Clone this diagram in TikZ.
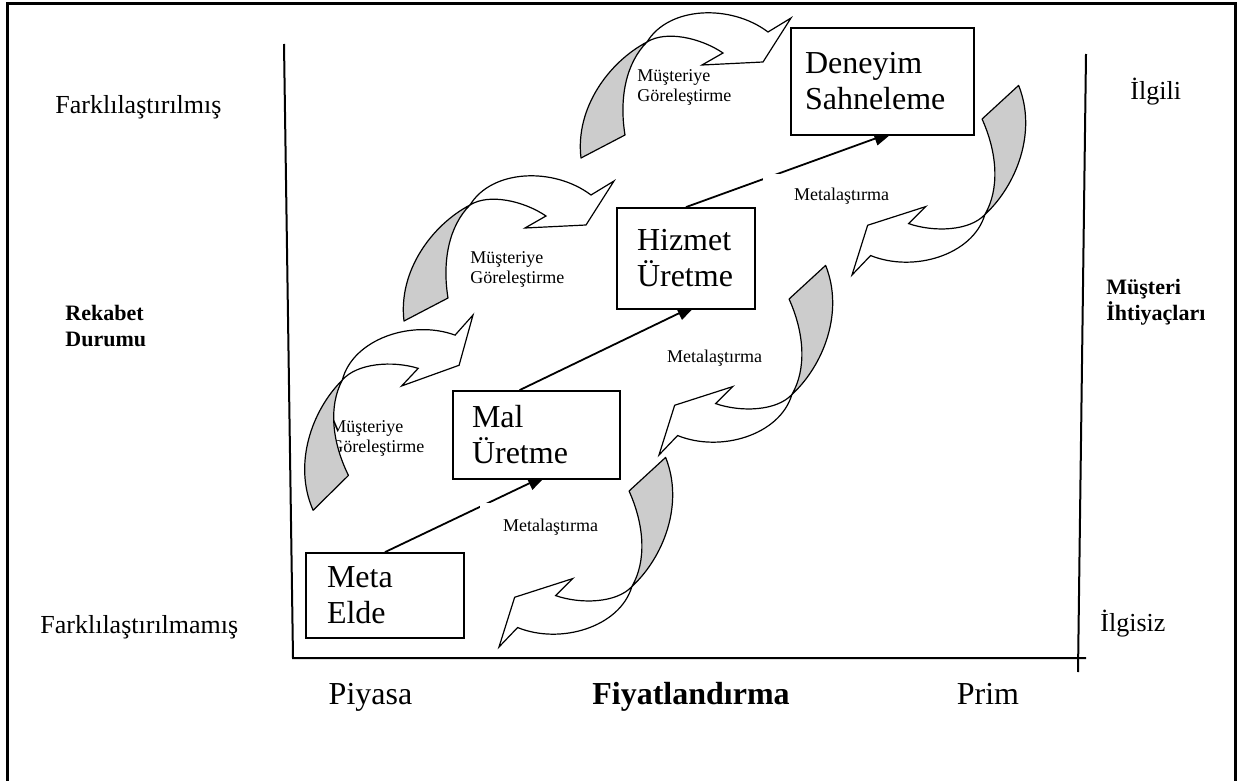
\documentclass[tikz,border=0pt]{standalone}
\usepackage{fontspec}
\setmainfont{Liberation Serif}
\usetikzlibrary{arrows.meta,calc}
\pgfdeclarelayer{bg}
\pgfdeclarelayer{mid}
\pgfsetlayers{bg,mid,main}
\tikzset{
  frameline/.style={line width=1.5pt},
  axisline/.style={line width=1pt},
  stagebox/.style={draw, line width=0.9pt, fill=white, align=left,
    font=\fontsize{16}{18}\selectfont, inner ysep=0pt},
  conn/.style={line width=0.9pt, -{Triangle[length=10pt,width=7pt]}, shorten >=-6pt},
  lbl/.style={font=\fontsize{9}{10}\selectfont, inner sep=0pt, align=left},
  coverlbl/.style={lbl, fill=white},
  sidelbl/.style={font=\fontsize{13}{15.6}\selectfont, anchor=west, inner sep=0pt},
  sidebold/.style={font=\fontsize{11}{13}\selectfont\bfseries, anchor=west, align=left, inner sep=0pt},
  pricelbl/.style={font=\fontsize{16}{19}\selectfont, inner sep=0pt, anchor=base},
  backpart/.style={fill=black!20, draw, line width=0.6pt, line join=round},
  frontpart/.style={fill=white, draw, line width=0.6pt, line join=miter},
}
\newcommand\curvarrow{%
  \filldraw[backpart] (-210,140) .. controls (-216,90) and (-182,44) .. (-144,24)
     .. controls (-165,45) and (-172,80) .. (-166,117) -- cycle;
  \filldraw[frontpart] (-144,24) .. controls (-122,-12) and (-60,-14) .. (-23,14)
     -- (0,0) -- (-28,44) -- (-89,47) -- (-68,35)
     .. controls (-90,20) and (-125,12) .. (-144,24) -- cycle;
}
\begin{document}
\begin{tikzpicture}[x=0.5pt,y=-0.5pt]
\useasboundingbox (0,0) rectangle (1242,781);

% stage boxes
\node[stagebox, text width=58pt, inner xsep=10.5pt, minimum height=42.5pt] (meta) at (385,595.5) {Meta\\Elde};
\node[stagebox, text width=64.5pt, inner xsep=9.5pt, minimum height=44pt] (mal) at (536.5,435) {Mal\\Üretme};
\node[stagebox, text width=49pt, inner xsep=10pt, minimum height=50.5pt] (hizmet) at (686,258.5) {Hizmet\\Üretme};
\node[stagebox, text width=77.5pt, inner xsep=7pt, minimum height=53.5pt] (deneyim) at (882.5,81.5) {Deneyim\\Sahneleme};

\begin{pgfonlayer}{bg}
  \draw[frameline] (7,781) -- (7,4) -- (1235,4) -- (1235,781);
  \draw[axisline] (284,44) -- (293,658) -- (1086,658);
  \draw[axisline] (1086,54) -- (1078,672);
  \draw[conn] (meta.north) -- (mal.south);
  \draw[conn] ($(mal.north west)!0.4!(mal.north east)$) -- (hizmet.south);
  \draw[conn] (hizmet.north) -- (deneyim.south);
\end{pgfonlayer}

\begin{pgfonlayer}{mid}
  \node[coverlbl, minimum width=70.5pt, minimum height=24pt] (m1) at (550.5,527) {Metalaştırma};
  \node[lbl] (m2) at (714.5,358) {Metalaştırma};
  \node[coverlbl, minimum width=78.5pt, minimum height=22pt] (m3) at (841.5,196) {Metalaştırma};
  \node[lbl, anchor=west] (g1) at (637,87.5) {Müşteriye\\Göreleştirme};
  \node[lbl, anchor=west] (g2) at (470,269.5) {Müşteriye\\Göreleştirme};
  \node[lbl, anchor=west] (g3) at (330,438) {Müşteriye\\Göreleştirme};

  \begin{scope}[shift={(791,18)}] \curvarrow \end{scope}
  \begin{scope}[shift={(614,181)}] \curvarrow \end{scope}
  \begin{scope}[shift={(473,315)},rotate=17] \curvarrow \end{scope}
  \begin{scope}[shift={(852,275)},rotate=195] \curvarrow \end{scope}
  \begin{scope}[shift={(659,455)},rotate=195] \curvarrow \end{scope}
  \begin{scope}[shift={(499,647)},rotate=195] \curvarrow \end{scope}
\end{pgfonlayer}

% side and axis texts
\node[sidelbl] (fark1) at (55,107) {Farklılaştırılmış};
\node[sidelbl] (fark2) at (40,627) {Farklılaştırılmamış};
\node[sidebold] (rekabet) at (65,326) {Rekabet\\Durumu};
\node[sidebold] (ihtiyac) at (1106,302) {Müşteri\\İhtiyaçları};
\node[sidelbl] (ilgili) at (1130,92) {İlgili};
\node[sidelbl] (ilgisiz) at (1100,624) {İlgisiz};
\node[pricelbl] (piyasa) at (370.5,704) {Piyasa};
\node[pricelbl, font=\fontsize{16}{19}\selectfont\bfseries] (fiyat) at (691,704) {Fiyatlandırma};
\node[pricelbl] (prim) at (988,704) {Prim};
\end{tikzpicture}
\end{document}
